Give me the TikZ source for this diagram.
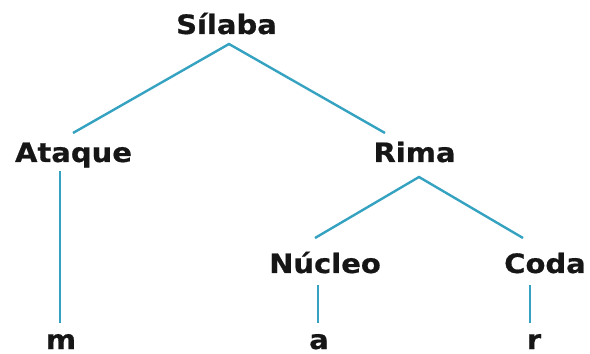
\documentclass[tikz,border=0pt]{standalone}
\usepackage{fontspec}
\setmainfont{DejaVu Sans}
\newfontfamily\lblfont[FakeBold=0.6]{DejaVu Sans Bold}
\definecolor{linecol}{RGB}{52,162,192}
\definecolor{txtcol}{RGB}{22,22,22}
\tikzset{
  lab/.style={font=\fontsize{29}{32}\lblfont, text=txtcol, inner sep=0pt, anchor=base, yscale=0.92, transform shape},
  edge/.style={draw=linecol, line width=2.4pt}
}
\begin{document}
\begin{tikzpicture}[x=1pt,y=1pt]
\useasboundingbox (0,0) rectangle (590,354);
\node[lab] (s)  at (226.5,320) {Sílaba};
\node[lab] (at) at (73.5,192) {Ataque};
\node[lab] (ri) at (414.5,192) {Rima};
\node[lab] (nu) at (325,81) {Núcleo};
\node[lab] (co) at (545,81) {Coda};
\node[lab] (m)  at (61,5) {m};
\node[lab] (a)  at (319,5) {a};
\node[lab] (r)  at (534,5) {r};
\draw[edge] ([shift={(-0.5,29)}]at.base) -- ([shift={(2.5,-10)}]s.base) -- ([shift={(-29.5,29)}]ri.base);
\draw[edge] ([shift={(-10,35)}]nu.base) -- ([shift={(4.5,-15)}]ri.base) -- ([shift={(-22,35)}]co.base);
\draw[edge] ([shift={(-1,-9)}]at.base -| m.base) -- ([shift={(-1,26)}]m.base);
\draw[edge] ([shift={(-1,-12)}]nu.base -| a.base) -- ([shift={(-1,26)}]a.base);
\draw[edge] ([shift={(-4,-12)}]co.base -| r.base) -- ([shift={(-4,26)}]r.base);
\end{tikzpicture}
\end{document}
